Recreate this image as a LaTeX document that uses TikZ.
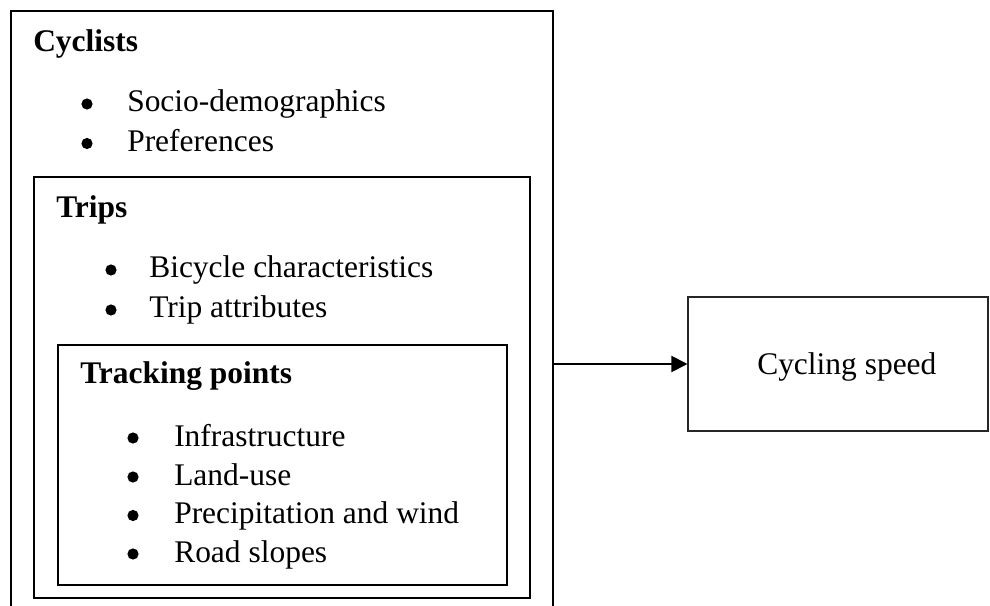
\documentclass[tikz,border=0pt]{standalone}
\usepackage{fontspec}
\setmainfont{Liberation Serif}
\usetikzlibrary{fit,arrows.meta}
\begin{document}
\begin{tikzpicture}[x=0.75pt,y=-0.75pt,
  txt/.style={anchor=base west,inner sep=0pt,font=\fontsize{23.6}{28}\selectfont},
  ttl/.style={txt,font=\fontsize{23.6}{28}\selectfont\bfseries},
  outerbox/.style={draw,inner sep=0pt,line width=2pt},
  innerbox/.style={draw,inner sep=0pt,line width=1.6pt},
  speedbox/.style={draw=black!85,inner sep=0pt,line width=0.8pt},
  bul/.style={fill=black}]
\useasboundingbox (0,0) rectangle (990,606);
\clip (0,0) rectangle (990,606);
% boxes
\node[outerbox,fit={(11,11) (553,640)}] (outer) {};
\node[innerbox,fit={(34,177) (530,598)}] (trips) {};
\node[innerbox,fit={(58,345) (507,585)}] (track) {};
\node[speedbox,fit={(688,297) (988,431)}] (speed) {};
% titles
\node[ttl] (t1) at (33,52) {Cyclists};
\node[ttl] (t2) at (56,218) {Trips};
\node[ttl] (t3) at (80,383) {Tracking points};
% cyclists items
\node[txt] (c1) at (127,112) {Socio-demographics};
\node[txt] (c2) at (127,151.5) {Preferences};
\fill[bul] (87,104) circle (4.2pt);
\fill[bul] (87,143.5) circle (4.2pt);
% trips items
\node[txt] (r1) at (149,278) {Bicycle characteristics};
\node[txt] (r2) at (149,318) {Trip attributes};
\fill[bul] (111,270) circle (4.2pt);
\fill[bul] (111,310) circle (4.2pt);
% tracking items
\node[txt] (k1) at (174,446) {Infrastructure};
\node[txt] (k2) at (174,485) {Land-use};
\node[txt] (k3) at (174,523.5) {Precipitation and wind};
\node[txt] (k4) at (174,562) {Road slopes};
\fill[bul] (133,438) circle (4.2pt);
\fill[bul] (133,477) circle (4.2pt);
\fill[bul] (133,515.5) circle (4.2pt);
\fill[bul] (133,554) circle (4.2pt);
% output
\node[txt] (s1) at (757,374) {Cycling speed};
\draw[line width=1.5pt,-{Triangle[length=12pt,width=12pt]}] (outer.east |- speed.west) -- (speed.west);
\end{tikzpicture}
\end{document}
